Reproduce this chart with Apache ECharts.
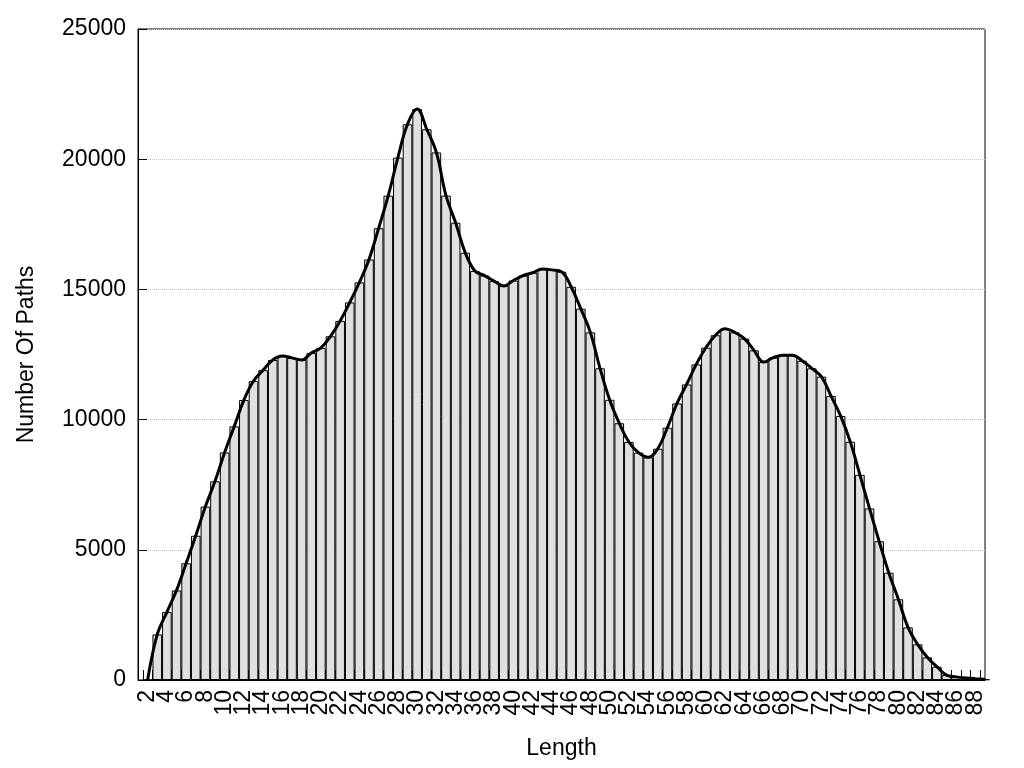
<!DOCTYPE html>
<html>
<head>
<meta charset="utf-8">
<script src="https://cdn.jsdelivr.net/npm/echarts@6/dist/echarts.min.js"></script>
<style>
  html, body { margin: 0; padding: 0; background: #fff; }
  #chart { width: 1024px; height: 768px; }
</style>
</head>
<body>
<div id="chart"></div>
<script>
// path length (x) and number of paths (y)
const lengths = [
  2, 3, 4, 5, 6, 7, 8, 9, 10, 11, 12, 13, 14, 15, 16, 17, 18, 19, 20, 21,
  22, 23, 24, 25, 26, 27, 28, 29, 30, 31, 32, 33, 34, 35, 36, 37, 38, 39, 40, 41,
  42, 43, 44, 45, 46, 47, 48, 49, 50, 51, 52, 53, 54, 55, 56, 57, 58, 59, 60, 61,
  62, 63, 64, 65, 66, 67, 68, 69, 70, 71, 72, 73, 74, 75, 76, 77, 78, 79, 80, 81,
  82, 83, 84, 85, 86, 87, 88, 89
];
const pathCounts = [
  0, 1750, 2610, 3440, 4480, 5540, 6660, 7630, 8740, 9740, 10750, 11480, 11900, 12290, 12440, 12370, 12290, 12560, 12750, 13200,
  13790, 14500, 15270, 16150, 17350, 18600, 20060, 21340, 21930, 21150, 20260, 18600, 17560, 16410, 15710, 15530, 15320, 15130, 15340, 15530,
  15640, 15780, 15750, 15680, 15100, 14260, 13350, 11970, 10760, 9860, 9140, 8730, 8550, 8880, 9690, 10620, 11350, 12120, 12760, 13240,
  13490, 13350, 13110, 12660, 12210, 12380, 12470, 12470, 12260, 11970, 11650, 10910, 10140, 9150, 7880, 6590, 5330, 4120, 3100, 2020,
  1370, 870, 510, 190, 120, 80, 50, 25
];
const xTickLabels = [
  2, 4, 6, 8, 10, 12, 14, 16, 18, 20, 22, 24, 26, 28, 30, 32, 34, 36, 38, 40, 42, 44,
  46, 48, 50, 52, 54, 56, 58, 60, 62, 64, 66, 68, 70, 72, 74, 76, 78, 80, 82, 84, 86, 88
];
const yTicks = [0, 5000, 10000, 15000, 20000, 25000];

const points = lengths.map((x, i) => [x, pathCounts[i]]);
const binEdges = lengths.map(x => x - 0.5);
// labels are split over two stacked axes so ECharts does not drop any as overlapping
const labelsA = xTickLabels.filter((_, i) => i % 2 === 0);
const labelsB = xTickLabels.filter((_, i) => i % 2 === 1);

const font = "'Liberation Sans', Arial, sans-serif";
const chart = echarts.init(document.getElementById('chart'));

const gridLeft = 138, gridRight = 39;
const xMin = 1, xMax = 89;
const binWidth = (1024 - gridLeft - gridRight) / (xMax - xMin);

const labelStyle = {
  showMinLabel: true,
  showMaxLabel: true,
  rotate: 90,
  margin: 10,
  fontFamily: font,
  fontSize: 23,
  color: '#000',
  formatter: v => String(v)
};

chart.setOption({
  animation: false,
  backgroundColor: '#fff',
  grid: {
    left: gridLeft,
    right: gridRight,
    top: 29,
    bottom: 88,
    show: true,
    borderColor: '#000',
    borderWidth: 1,
    backgroundColor: 'transparent'
  },
  xAxis: [
    {
      type: 'value',
      min: xMin,
      max: xMax,
      position: 'bottom',
      name: 'Length',
      nameLocation: 'middle',
      nameGap: 57,
      nameTextStyle: { fontFamily: font, fontSize: 23, color: '#000' },
      axisLine: { show: true, onZero: false, lineStyle: { color: '#000', width: 1 } },
      axisTick: {
        show: true,
        inside: true,
        length: 10,
        customValues: binEdges,
        lineStyle: { color: '#000', width: 1 }
      },
      axisLabel: Object.assign({ customValues: labelsA }, labelStyle),
      splitLine: { show: false }
    },
    {
      type: 'value',
      min: xMin,
      max: xMax,
      position: 'bottom',
      offset: 0,
      axisLine: { show: false, onZero: false },
      axisTick: { show: false },
      axisLabel: Object.assign({ customValues: labelsB }, labelStyle),
      splitLine: { show: false }
    }
  ],
  yAxis: {
    type: 'value',
    min: yTicks[0],
    max: yTicks[yTicks.length - 1],
    interval: 5000,
    name: 'Number Of Paths',
    nameLocation: 'middle',
    nameGap: 100,
    nameTextStyle: { fontFamily: font, fontSize: 23, color: '#000' },
    axisLine: { show: true, lineStyle: { color: '#000', width: 1 } },
    axisTick: { show: true, inside: true, length: 9, lineStyle: { color: '#000' } },
    axisLabel: {
      margin: 12,
      fontFamily: font,
      fontSize: 23,
      color: '#000',
      formatter: v => String(v)
    },
    splitLine: { show: true, lineStyle: { color: '#c8c8c8', type: 'dotted', width: 1 } }
  },
  series: [
    {
      type: 'bar',
      data: points,
      barWidth: binWidth,
      itemStyle: { color: '#e0e0e0', borderColor: '#000', borderWidth: 1 },
      z: 2
    },
    {
      type: 'line',
      data: points,
      smooth: 0.4,
      showSymbol: false,
      symbol: 'none',
      lineStyle: { color: '#000', width: 3 },
      z: 3
    }
  ]
});
</script>
</body>
</html>
